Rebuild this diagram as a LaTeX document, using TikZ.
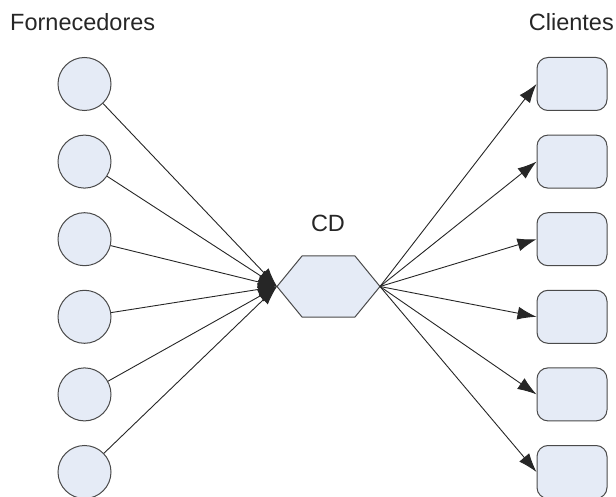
\documentclass[tikz,border=0pt]{standalone}
\usepackage{fontspec}
\setmainfont{Liberation Sans}
\usetikzlibrary{arrows.meta}
\definecolor{nodefill}{HTML}{E5EBF6}
\definecolor{edge}{HTML}{4A4A4A}
\tikzset{
  supplier/.style={circle, draw=edge, line width=1pt, fill=nodefill, minimum size=53pt, inner sep=0pt},
  client/.style={rectangle, rounded corners=11pt, draw=edge, line width=1pt, fill=nodefill, minimum width=70pt, minimum height=53pt, inner sep=0pt},
  conn/.style={draw=black!85, line width=0.9pt, -{Latex[length=19pt,width=13pt]}},
  lbl/.style={inner sep=0pt, font=\fontsize{23.5}{28}\selectfont, text=black!85}
}
\begin{document}
\begin{tikzpicture}[x=1pt, y=-1pt]
\useasboundingbox (0,0) rectangle (616,497);
% labels
\node[lbl, anchor=base west] (lf) at (10,31) {Fornecedores};
\node[lbl, anchor=base east] (lc) at (614,31) {Clientes};
\node[lbl, anchor=base] (lcd) at (328,232) {CD};
% hexagon (CD)
\coordinate (hl) at (277,286.5);
\coordinate (hr) at (380,286.5);
\draw[draw=edge, line width=1pt, fill=nodefill] (hl) -- (302,256) -- (355,256) -- (hr) -- (355,317) -- (302,317) -- cycle;
% suppliers and clients
\foreach \i/\y in {1/84, 2/161.6, 3/239.2, 4/316.8, 5/394.4, 6/472} {
  \node[supplier] (s\i) at (84.5,\y) {};
  \node[client] (c\i) at (572,\y) {};
}
\foreach \i in {1,...,6} {
  \draw[conn] (s\i) -- (hl);
  \draw[conn] (hr) -- (c\i.west);
}
\end{tikzpicture}
\end{document}
